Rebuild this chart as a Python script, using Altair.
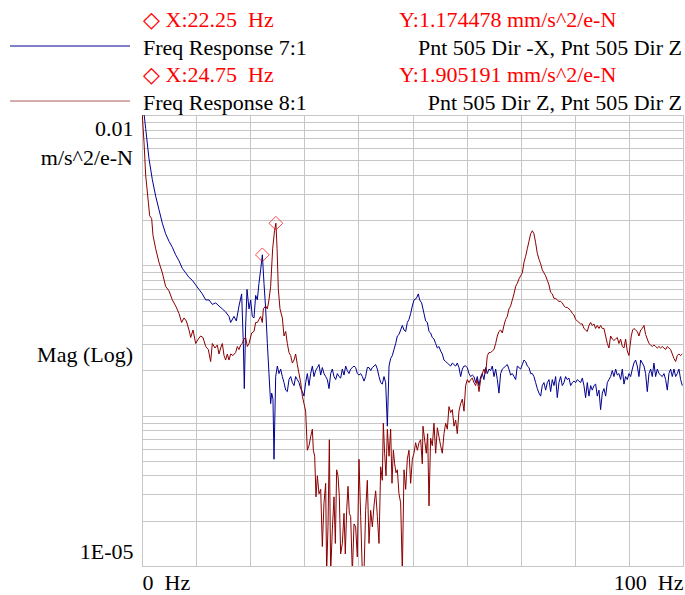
import altair as alt
import pandas as pd

# ---------------- data ----------------
series_names = ["Freq Response 7:1", "Freq Response 8:1"]

# Freq Response 7:1  (frequency in Hz, log10 of magnitude in m/s^2/e-N)
freq_7_1 = [
    0.0, 0.37, 0.68, 1.29, 1.91, 2.53, 3.14, 3.76, 4.37, 4.99, 5.61, 6.22, 6.84, 7.45, 8.07,
    8.69, 9.30, 9.92, 10.53, 11.15, 11.77, 12.38, 13.00, 13.62, 14.23, 14.85, 15.46, 16.08,
    16.39, 17.00, 17.44, 17.93, 18.42, 18.73, 18.91, 19.16, 19.41, 19.78, 20.09, 20.39, 20.70,
    21.01, 21.32, 21.62, 21.93, 22.25, 22.55, 22.86, 23.17, 23.47, 23.78, 23.97, 24.21, 24.40,
    24.71, 25.02, 25.32, 25.63, 25.94, 26.25, 26.56, 26.86, 27.17, 27.48, 27.79, 28.10, 28.40,
    28.71, 29.02, 29.33, 29.64, 29.94, 30.25, 30.56, 30.87, 31.18, 31.49, 31.79, 32.10, 32.41,
    32.72, 33.03, 33.33, 33.64, 33.95, 34.26, 34.57, 34.87, 35.18, 35.49, 35.80, 36.11, 36.41,
    36.72, 37.03, 37.34, 37.65, 37.95, 38.26, 38.57, 38.88, 39.19, 39.49, 39.80, 40.11, 40.42,
    40.73, 41.03, 41.34, 41.65, 41.96, 42.27, 42.58, 42.88, 43.19, 43.50, 43.81, 44.12, 44.42,
    44.73, 45.04, 45.35, 45.66, 45.96, 46.27, 46.58, 46.89, 47.20, 47.50, 47.81, 48.12, 48.43,
    48.74, 49.04, 49.35, 49.66, 49.97, 50.28, 50.71, 51.08, 51.32, 51.69, 52.12, 52.43, 52.74,
    53.05, 53.35, 53.66, 53.97, 54.28, 54.59, 54.89, 55.20, 55.51, 55.82, 56.13, 56.44, 56.74,
    57.05, 57.36, 57.67, 57.98, 58.28, 58.59, 58.90, 59.21, 59.52, 59.82, 60.13, 60.44, 60.75,
    61.06, 61.36, 61.67, 61.98, 62.29, 62.60, 62.90, 63.21, 63.52, 63.83, 64.14, 64.44, 64.75,
    65.06, 65.37, 65.68, 65.98, 66.29, 66.60, 66.91, 67.22, 67.52, 67.83, 68.14, 68.45, 68.76,
    69.07, 69.37, 69.68, 69.99, 70.30, 70.61, 70.91, 71.22, 71.53, 71.84, 72.15, 72.45, 72.76,
    73.07, 73.38, 73.69, 73.99, 74.30, 74.61, 74.92, 75.23, 75.53, 75.84, 76.15, 76.46, 76.76,
    77.07, 77.38, 77.69, 78.00, 78.30, 78.61, 78.92, 79.23, 79.54, 79.84, 80.15, 80.46, 80.77,
    81.08, 81.39, 81.69, 82.00, 82.31, 82.62, 82.93, 83.23, 83.54, 83.85, 84.16, 84.47, 84.77,
    85.08, 85.39, 85.70, 86.01, 86.31, 86.62, 86.93, 87.24, 87.55, 87.85, 88.16, 88.47, 88.78,
    89.09, 89.39, 89.70, 90.01, 90.32, 90.63, 90.93, 91.24, 91.55, 91.86, 92.17, 92.48, 92.78,
    93.09, 93.40, 93.71, 94.02, 94.32, 94.63, 94.94, 95.25, 95.56, 95.86, 96.17, 96.48, 96.79,
    97.10, 97.40, 97.71, 98.02, 98.33, 98.64, 98.94, 99.25, 99.56, 99.87,
]
log10_mag_7_1 = [
    -1.88, -1.99, -2.09, -2.29, -2.43, -2.54, -2.63, -2.72, -2.79, -2.84, -2.88, -2.93, -2.97, -3.02, -3.05,
    -3.08, -3.10, -3.13, -3.16, -3.19, -3.23, -3.23, -3.26, -3.25, -3.27, -3.29, -3.31, -3.34,
    -3.38, -3.34, -3.37, -3.27, -3.19, -3.52, -3.82, -3.40, -3.16, -3.29, -3.23, -3.34, -3.35,
    -3.20, -3.23, -3.12, -3.03, -2.930, -3.12, -3.29, -3.52, -3.72, -3.92, -3.85, -3.89, -4.29,
    -3.74, -3.67, -3.72, -3.69, -3.74, -3.78, -3.83, -3.84, -3.76, -3.74, -3.78, -3.80, -3.74,
    -3.76, -3.78, -3.82, -3.84, -3.87, -3.78, -3.72, -3.80, -3.72, -3.67, -3.74, -3.70, -3.68,
    -3.66, -3.73, -3.68, -3.72, -3.74, -3.76, -3.82, -3.72, -3.69, -3.74, -3.76, -3.72, -3.74,
    -3.75, -3.69, -3.73, -3.67, -3.70, -3.72, -3.69, -3.68, -3.67, -3.68, -3.72, -3.73, -3.72,
    -3.74, -3.77, -3.74, -3.68, -3.68, -3.70, -3.68, -3.67, -3.66, -3.69, -3.74, -3.78, -3.79,
    -3.74, -3.78, -4.07, -3.67, -3.62, -3.60, -3.56, -3.52, -3.47, -3.46, -3.43, -3.40, -3.43,
    -3.44, -3.38, -3.36, -3.32, -3.27, -3.23, -3.22, -3.19, -3.23, -3.25, -3.32, -3.37, -3.38,
    -3.44, -3.45, -3.48, -3.49, -3.52, -3.55, -3.54, -3.57, -3.59, -3.63, -3.64, -3.65, -3.66,
    -3.67, -3.65, -3.66, -3.67, -3.65, -3.68, -3.74, -3.69, -3.67, -3.67, -3.68, -3.72, -3.74,
    -3.73, -3.74, -3.78, -3.74, -3.80, -3.74, -3.72, -3.76, -3.68, -3.72, -3.69, -3.70, -3.67,
    -3.74, -3.69, -3.76, -3.85, -3.72, -3.69, -3.68, -3.67, -3.66, -3.69, -3.73, -3.72, -3.74,
    -3.76, -3.67, -3.68, -3.69, -3.66, -3.63, -3.64, -3.67, -3.68, -3.72, -3.72, -3.74, -3.78,
    -3.82, -3.85, -3.87, -3.80, -3.78, -3.83, -3.78, -3.76, -3.84, -3.76, -3.80, -3.74, -3.88,
    -3.78, -3.74, -3.80, -3.78, -3.74, -3.76, -3.75, -3.80, -3.78, -3.77, -3.78, -3.76, -3.77,
    -3.78, -3.75, -3.80, -3.88, -3.78, -3.87, -3.80, -3.83, -3.80, -3.79, -3.87, -3.83, -3.96,
    -3.85, -3.82, -3.87, -3.78, -3.76, -3.74, -3.70, -3.74, -3.69, -3.73, -3.72, -3.76, -3.69,
    -3.79, -3.74, -3.76, -3.72, -3.74, -3.69, -3.65, -3.63, -3.67, -3.74, -3.63, -3.65, -3.67,
    -3.72, -3.84, -3.72, -3.69, -3.74, -3.65, -3.74, -3.69, -3.72, -3.73, -3.74, -3.72, -3.76,
    -3.83, -3.72, -3.69, -3.74, -3.69, -3.74, -3.72, -3.69, -3.76, -3.80,
]

# Freq Response 8:1
freq_8_1 = [
    0.0, 0.37, 0.68, 1.17, 1.42, 1.79, 2.03, 2.53, 3.14, 3.76, 4.37, 4.99, 5.61, 6.22, 6.84,
    7.33, 7.76, 8.19, 8.69, 9.00, 9.43, 9.92, 10.41, 10.84, 11.27, 11.77, 12.26, 12.69, 13.00,
    13.49, 13.92, 14.23, 14.54, 14.85, 15.16, 15.46, 15.77, 16.08, 16.39, 16.82, 17.31, 17.62,
    17.93, 18.24, 18.54, 18.85, 19.16, 19.47, 19.78, 20.27, 20.70, 21.01, 21.32, 21.62, 21.93,
    22.24, 22.43, 22.86, 23.17, 23.47, 23.78, 24.15, 24.50, 24.75, 24.97, 25.20, 25.51, 25.94,
    26.25, 26.56, 26.86, 27.17, 27.48, 27.79, 28.10, 28.40, 28.71, 29.02, 29.33, 29.64, 29.94,
    30.25, 30.56, 30.87, 31.18, 31.49, 31.67, 31.92, 32.16, 32.41, 32.72, 33.03, 33.33, 33.64,
    33.95, 34.13, 34.38, 34.63, 34.87, 35.18, 35.49, 35.74, 35.98, 36.23, 36.48, 36.72, 37.03,
    37.34, 37.58, 37.83, 38.08, 38.32, 38.57, 38.88, 39.19, 39.49, 39.80, 40.11, 40.42, 40.73,
    41.03, 41.34, 41.65, 41.96, 42.27, 42.58, 42.88, 43.19, 43.50, 43.81, 44.12, 44.42, 44.61,
    44.85, 45.10, 45.35, 45.66, 45.96, 46.21, 46.46, 46.70, 46.95, 47.20, 47.50, 47.81, 48.12,
    48.43, 48.74, 49.04, 49.35, 49.66, 49.97, 50.27, 50.58, 50.89, 51.20, 51.51, 51.81, 51.94,
    52.31, 52.55, 52.80, 53.05, 53.35, 53.66, 53.97, 54.28, 54.59, 54.89, 55.20, 55.51, 55.82,
    56.13, 56.44, 56.74, 57.05, 57.36, 57.67, 57.98, 58.28, 58.59, 58.90, 59.21, 59.52, 59.82,
    60.13, 60.44, 60.75, 61.06, 61.36, 61.67, 61.98, 62.29, 62.60, 62.90, 63.21, 63.52, 63.83,
    64.14, 64.44, 64.75, 65.06, 65.37, 65.68, 65.98, 66.29, 66.60, 66.91, 67.22, 67.52, 67.83,
    68.14, 68.45, 68.76, 69.07, 69.37, 69.68, 69.99, 70.30, 70.61, 70.91, 71.22, 71.53, 71.84,
    72.15, 72.45, 72.76, 73.07, 73.38, 73.69, 73.99, 74.30, 74.61, 74.92, 75.23, 75.53, 75.84,
    76.15, 76.46, 76.76, 77.07, 77.38, 77.69, 78.00, 78.30, 78.61, 78.92, 79.23, 79.54, 79.84,
    80.15, 80.46, 80.77, 81.08, 81.39, 81.69, 82.00, 82.31, 82.62, 82.93, 83.23, 83.54, 83.85,
    84.16, 84.47, 84.77, 85.08, 85.39, 85.70, 86.01, 86.31, 86.62, 86.93, 87.24, 87.55, 87.85,
    88.16, 88.47, 88.78, 89.09, 89.39, 89.70, 90.01, 90.20, 90.44, 90.69, 90.93, 91.24, 91.55,
    91.86, 92.17, 92.48, 92.78, 93.09, 93.40, 93.71, 94.02, 94.32, 94.63, 94.94, 95.25, 95.56,
    95.86, 96.17, 96.48, 96.79, 97.10, 97.40, 97.71, 98.02, 98.33, 98.64, 98.94, 99.25, 99.56,
    99.87,
]
log10_mag_8_1 = [
    -1.97, -2.18, -2.40, -2.58, -2.67, -2.69, -2.80, -2.89, -2.98, -3.05, -3.14, -3.17, -3.23, -3.27, -3.32,
    -3.38, -3.35, -3.37, -3.43, -3.48, -3.43, -3.52, -3.49, -3.47, -3.48, -3.54, -3.56, -3.64, -3.52,
    -3.55, -3.53, -3.59, -3.55, -3.52, -3.60, -3.63, -3.59, -3.63, -3.59, -3.60, -3.58, -3.54,
    -3.56, -3.53, -3.52, -3.49, -3.48, -3.54, -3.52, -3.45, -3.44, -3.38, -3.38, -3.36, -3.34,
    -3.38, -3.29, -3.27, -3.29, -3.23, -3.14, -2.89, -2.77, -2.720, -2.89, -3.16, -3.29, -3.35,
    -3.47, -3.44, -3.52, -3.58, -3.60, -3.65, -3.63, -3.59, -3.66, -3.72, -3.78, -3.87, -3.92,
    -3.97, -4.23, -4.20, -4.14, -4.09, -4.23, -4.27, -4.54, -4.40, -4.52, -4.49, -4.87, -4.58,
    -4.45, -5.05, -4.74, -4.16, -5.05, -4.76, -4.54, -4.85, -4.36, -4.40, -4.54, -4.92, -4.85,
    -4.65, -4.92, -4.63, -4.47, -4.65, -4.67, -5.05, -4.72, -4.74, -4.94, -4.29, -4.67, -5.05,
    -5.05, -4.63, -4.43, -4.85, -4.63, -4.74, -4.60, -4.50, -4.67, -4.85, -4.34, -4.43, -4.05,
    -4.25, -4.40, -4.09, -4.27, -4.09, -4.45, -4.23, -4.32, -4.38, -4.36, -4.52, -4.58, -5.05,
    -4.36, -4.49, -4.29, -4.23, -4.45, -4.29, -4.25, -4.18, -4.23, -4.18, -4.16, -4.32, -4.07,
    -4.18, -4.25, -4.12, -4.60, -4.15, -4.20, -4.05, -4.25, -4.08, -4.14, -4.20, -4.25, -4.12,
    -4.05, -4.09, -3.94, -3.98, -3.96, -4.07, -4.03, -4.12, -3.97, -3.92, -3.89, -3.97, -3.80,
    -3.76, -3.78, -3.76, -3.75, -3.78, -3.80, -3.76, -3.84, -3.76, -3.72, -3.69, -3.72, -3.60,
    -3.58, -3.58, -3.57, -3.56, -3.52, -3.47, -3.44, -3.43, -3.45, -3.40, -3.36, -3.34, -3.29,
    -3.27, -3.23, -3.19, -3.14, -3.12, -3.09, -3.07, -3.05, -2.98, -2.94, -2.89, -2.84, -2.79,
    -2.77, -2.79, -2.85, -2.92, -2.96, -2.99, -3.03, -3.05, -3.07, -3.10, -3.13, -3.18, -3.19,
    -3.22, -3.22, -3.23, -3.24, -3.24, -3.25, -3.27, -3.28, -3.28, -3.29, -3.30, -3.32, -3.33,
    -3.36, -3.37, -3.38, -3.39, -3.39, -3.42, -3.43, -3.44, -3.40, -3.38, -3.40, -3.39, -3.42,
    -3.40, -3.42, -3.40, -3.42, -3.42, -3.47, -3.52, -3.55, -3.47, -3.49, -3.50, -3.49, -3.48,
    -3.52, -3.49, -3.54, -3.55, -3.49, -3.57, -3.60, -3.54, -3.47, -3.43, -3.42, -3.43, -3.44,
    -3.47, -3.43, -3.42, -3.40, -3.46, -3.49, -3.52, -3.53, -3.54, -3.53, -3.54, -3.55, -3.54,
    -3.55, -3.54, -3.55, -3.56, -3.54, -3.55, -3.56, -3.59, -3.62, -3.64, -3.60, -3.59, -3.60,
    -3.59,
]

# cursor markers (Hz, m/s^2/e-N)
marker_freq = [22.25, 24.75]
marker_mag = [1.174478e-3, 1.905191e-3]
marker_x_text = ["\u25c7 X:22.25\u00a0\u00a0Hz", "\u25c7 X:24.75\u00a0\u00a0Hz"]
marker_y_text = ["Y:1.174478 mm/s^2/e-N", "Y:1.905191 mm/s^2/e-N"]
series_desc = ["Pnt 505 Dir -X, Pnt 505 Dir Z", "Pnt 505 Dir Z, Pnt 505 Dir Z"]

assert len(freq_7_1) == len(log10_mag_7_1)
assert len(freq_8_1) == len(log10_mag_8_1)

# ---------------- chart ----------------
FONT = "Liberation Serif"
FS = 22
BLUE = "#000090"
RED = "#8B0000"
GRID = "#C6C6C6"

df = pd.concat([
    pd.DataFrame({"freq": freq_7_1, "mag": [10 ** v for v in log10_mag_7_1], "series": series_names[0]}),
    pd.DataFrame({"freq": freq_8_1, "mag": [10 ** v for v in log10_mag_8_1], "series": series_names[1]}),
], ignore_index=True)
mk = pd.DataFrame({"freq": marker_freq, "mag": marker_mag})

xscale = alt.Scale(domain=[0, 100], nice=False, zero=False)
yscale = alt.Scale(type="log", domain=[1e-5, 1e-2], nice=False)

y_grid = [m * 10.0 ** e for e in (-5, -4, -3) for m in range(1, 10)] + [1e-2]

x_axis = alt.Axis(
    values=list(range(0, 101, 10)),
    labelExpr="datum.value == 0 ? '0\u00a0\u00a0Hz' : (datum.value == 100 ? '100\u00a0\u00a0Hz' : '')",
    labelFlush=True, labelOverlap=False, grid=True, gridColor=GRID, gridWidth=1,
    ticks=False, tickSize=0, domain=False, title=None,
    labelFont=FONT, labelFontSize=FS, labelColor="black", labelPadding=6,
)
y_axis = alt.Axis(
    values=y_grid,
    labelExpr="abs(datum.value - 0.01) < 1e-9 ? '0.01' : (abs(datum.value - 0.00001) < 1e-12 ? '1E-05' : '')",
    labelFlush=True, labelFlushOffset=-3, labelOverlap=False, grid=True, gridColor=GRID, gridWidth=1,
    ticks=False, tickSize=0, domain=False, title=None,
    labelFont=FONT, labelFontSize=FS, labelColor="black", labelPadding=9,
)

lines = alt.Chart(df).mark_line(strokeWidth=1, clip=True).encode(
    x=alt.X("freq:Q", scale=xscale, axis=x_axis),
    y=alt.Y("mag:Q", scale=yscale, axis=y_axis),
    color=alt.Color("series:N", scale=alt.Scale(domain=series_names, range=[BLUE, RED]), legend=None),
    detail="series:N",
)

markers = alt.Chart(mk).mark_point(shape="diamond", filled=False, color="#FF0000", size=190, strokeWidth=1).encode(
    x=alt.X("freq:Q", scale=xscale),
    y=alt.Y("mag:Q", scale=yscale),
)


def label(text, x, y, color="black", align="left"):
    return alt.Chart(pd.DataFrame({"t": [text]})).mark_text(
        align=align, baseline="alphabetic", font=FONT, fontSize=FS, color=color
    ).encode(text="t:N", x=alt.value(x), y=alt.value(y))


def legend_line(color, y):
    return alt.Chart(pd.DataFrame({"s": [0]})).mark_rule(color=color, strokeWidth=1).encode(
        x=alt.value(-132), x2=alt.value(-12), y=alt.value(y)
    )


layers = [
    lines, markers,
    label(marker_x_text[0], 1, -88, color="#FF0000"),
    label(marker_y_text[0], 257, -88, color="#FF0000"),
    legend_line(BLUE, -69),
    label(series_names[0], 1, -60),
    label(series_desc[0], 540, -60, align="right"),
    label(marker_x_text[1], 1, -33, color="#FF0000"),
    label(marker_y_text[1], 257, -33, color="#FF0000"),
    legend_line("#A85858", -14),
    label(series_names[1], 1, -5),
    label(series_desc[1], 540, -5, align="right"),
    label("m/s^2/e-N", -9, 50, align="right"),
    label("Mag (Log)", -9, 247, align="right"),
]

chart = alt.layer(*layers).properties(
    width=541, height=451,
    autosize=alt.AutoSizeParams(type="none"),
    padding={"left": 142, "top": 115, "right": 2, "bottom": 29},
    background="white",
).configure_view(stroke="#B4B4B4", strokeWidth=1)

chart.save("out.html", embed_options={"renderer": "svg", "actions": False})
